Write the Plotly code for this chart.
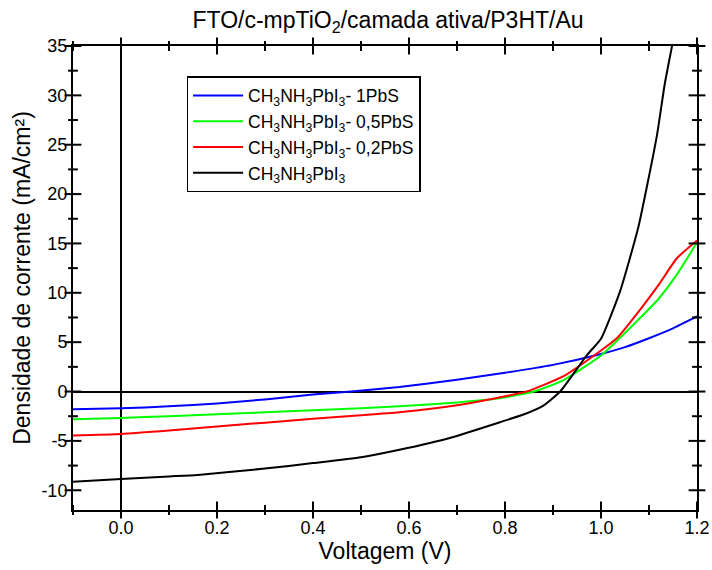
import plotly.graph_objects as go

# Data
x_blue = [-0.1, 0.0, 0.1, 0.2, 0.3, 0.4, 0.48, 0.58, 0.7, 0.8, 0.9, 1.0, 1.05, 1.1, 1.15, 1.2]
y_blue = [-1.8, -1.7, -1.5, -1.2, -0.8, -0.3, 0.0, 0.45, 1.2, 1.9, 2.7, 3.8, 4.5, 5.4, 6.4, 7.6]

x_green = [-0.1, 0.0, 0.1, 0.2, 0.3, 0.4, 0.5, 0.58, 0.7, 0.79, 0.86, 0.92, 1.0, 1.07, 1.12, 1.16, 1.2]
y_green = [-2.8, -2.67, -2.5, -2.3, -2.1, -1.9, -1.7, -1.5, -1.1, -0.68, 0.0, 1.1, 3.65, 6.9, 9.4, 12.0, 15.1]

x_red = [-0.1, 0.0, 0.1, 0.2, 0.3, 0.4, 0.5, 0.58, 0.7, 0.79, 0.845, 0.92, 1.0, 1.033, 1.08, 1.12, 1.158, 1.2]
y_red = [-4.46, -4.3, -3.95, -3.55, -3.15, -2.75, -2.4, -2.1, -1.4, -0.58, 0.0, 1.5, 4.16, 5.4, 8.2, 10.8, 13.5, 15.3]

x_black = [-0.1, 0.0, 0.1, 0.16, 0.3, 0.4, 0.5, 0.58, 0.685, 0.79, 0.84, 0.88, 0.915, 0.97, 1.0, 1.04, 1.078, 1.116, 1.133, 1.15, 1.16]
y_black = [-9.13, -8.86, -8.6, -8.45, -7.8, -7.25, -6.66, -5.9, -4.7, -3.1, -2.3, -1.42, 0.0, 3.65, 5.35, 10.2, 16.7, 25.8, 31.2, 35.5, 38.0]

names = [
    "CH<sub>3</sub>NH<sub>3</sub>PbI<sub>3</sub>- 1PbS",
    "CH<sub>3</sub>NH<sub>3</sub>PbI<sub>3</sub>- 0,5PbS",
    "CH<sub>3</sub>NH<sub>3</sub>PbI<sub>3</sub>- 0,2PbS",
    "CH<sub>3</sub>NH<sub>3</sub>PbI<sub>3</sub>",
]
colors = ["#0000ff", "#00ff00", "#ff0000", "#000000"]

# Tick values and labels
x_tickvals = [0.0, 0.2, 0.4, 0.6, 0.8, 1.0, 1.2]
x_ticktext = ["0.0", "0.2", "0.4", "0.6", "0.8", "1.0", "1.2"]
x_minorvals = [-0.1, 0.1, 0.3, 0.5, 0.7, 0.9, 1.1]
y_tickvals = [-10, -5, 0, 5, 10, 15, 20, 25, 30, 35]
y_ticktext = ["-10", "-5", "0", "5", "10", "15", "20", "25", "30", "35"]
y_minorvals = [-7.5, -2.5, 2.5, 7.5, 12.5, 17.5, 22.5, 27.5, 32.5]

X_RANGE = [-0.1, 1.2]
Y_RANGE = [-12, 35]
FONT = "Liberation Sans, Arial, sans-serif"
MAJOR_SIZE = 12
MINOR_SIZE = 7

fig = go.Figure()
for xs, ys, nm, c in zip([x_blue, x_green, x_red, x_black],
                         [y_blue, y_green, y_red, y_black], names, colors):
    fig.add_trace(go.Scatter(x=xs, y=ys, mode="lines", name=nm,
                             line=dict(color=c, width=2, shape="spline", smoothing=0.5)))


def tick_marks(xs, ys, symbol, size):
    # short tick marks sitting on the frame at the tick positions
    fig.add_trace(go.Scatter(
        x=xs, y=ys, mode="markers", cliponaxis=False, showlegend=False, hoverinfo="skip",
        marker=dict(symbol=symbol, size=size, color="black",
                    line=dict(width=2, color="black"))))


for vals, sz in ((x_tickvals, MAJOR_SIZE), (x_minorvals, MINOR_SIZE)):
    tick_marks(vals, [Y_RANGE[0]] * len(vals), "line-ns", sz)
    tick_marks(vals, [Y_RANGE[1]] * len(vals), "line-ns", sz)
for vals, sz in ((y_tickvals, MAJOR_SIZE), (y_minorvals, MINOR_SIZE)):
    tick_marks([X_RANGE[0]] * len(vals), vals, "line-ew", sz)
    tick_marks([X_RANGE[1]] * len(vals), vals, "line-ew", sz)

fig.update_layout(
    width=712, height=570,
    margin=dict(l=73, r=15, t=46, b=60),
    plot_bgcolor="white", paper_bgcolor="white",
    xaxis=dict(range=X_RANGE, tickmode="array", tickvals=x_tickvals, ticktext=x_ticktext,
               ticks="", showline=True, linecolor="black", linewidth=2, mirror=True,
               showgrid=False, zeroline=True, zerolinecolor="black", zerolinewidth=2,
               automargin=False,
               tickfont=dict(size=18, color="black", family=FONT),
               title=dict(text="Voltagem (V)", font=dict(size=23, color="black", family=FONT), standoff=4)),
    yaxis=dict(range=Y_RANGE, tickmode="array", tickvals=y_tickvals, ticktext=y_ticktext,
               ticks="", showline=True, linecolor="black", linewidth=2, mirror=True,
               showgrid=False, zeroline=True, zerolinecolor="black", zerolinewidth=2,
               automargin=False,
               tickfont=dict(size=18, color="black", family=FONT),
               title=dict(text="Densidade de corrente (mA/cm²)", font=dict(size=23, color="black", family=FONT), standoff=4)),
    title=dict(text="FTO/c-mpTiO<sub>2</sub>/camada ativa/P3HT/Au",
               x=0.545, xanchor="center", y=0.965, yanchor="middle",
               font=dict(size=23, color="black", family=FONT)),
    legend=dict(x=0.182, y=0.935, xanchor="left", yanchor="top",
                bordercolor="black", borderwidth=1.5, bgcolor="white",
                font=dict(size=17.5, color="black", family=FONT),
                tracegroupgap=0, itemwidth=50),
    showlegend=True,
)

fig.write_html("out.html")
